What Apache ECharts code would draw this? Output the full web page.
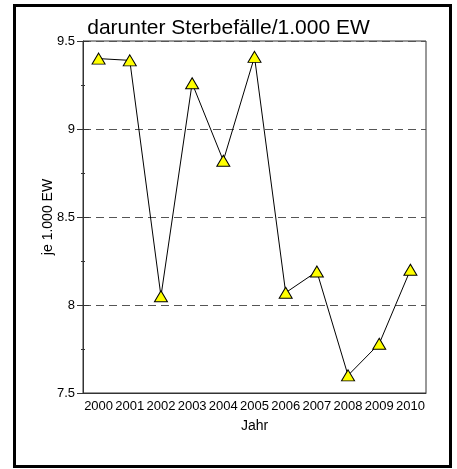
<!DOCTYPE html>
<html><head><meta charset="utf-8">
<script src="https://cdn.jsdelivr.net/npm/echarts@6/dist/echarts.min.js"></script>
<style>html,body{margin:0;padding:0;background:#fff}#c{width:457px;height:469px}</style>
</head><body><div id="c"></div>
<script>
const years = ['2000','2001','2002','2003','2004','2005','2006','2007','2008','2009','2010'];
const values = [9.40, 9.39, 8.05, 9.26, 8.82, 9.41, 8.07, 8.19, 7.60, 7.78, 8.20];
const title = 'darunter Sterbefälle/1.000 EW';
const yName = 'je 1.000 EW';
const xName = 'Jahr';

const narrow = '"Liberation Sans Narrow", "Arial Narrow", "Liberation Sans", sans-serif';
const chart = echarts.init(document.getElementById('c'));
const axisCol = '#333';
chart.setOption({
  animation: false,
  backgroundColor: '#fff',
  title: { text: title, left: 'center', top: 13,
    textStyle: { fontFamily: 'Liberation Sans, Arial, sans-serif', fontSize: 21, fontWeight: 'normal', color: '#000' } },
  graphic: [{ type: 'rect', shape: { x: 14.5, y: 5.5, width: 436, height: 461 },
    style: { fill: 'none', stroke: '#000', lineWidth: 3 }, z: 100 }],
  grid: { left: 83, right: 31, top: 41, bottom: 76, show: true, borderColor: axisCol, borderWidth: 1, backgroundColor: 'transparent' },
  xAxis: [{
    type: 'category', data: years, boundaryGap: true,
    name: xName, nameLocation: 'middle', nameGap: 26,
    nameTextStyle: { fontFamily: 'Liberation Sans, Arial, sans-serif', fontSize: 14, color: '#000' },
    axisLine: { lineStyle: { color: axisCol } },
    axisTick: { alignWithLabel: true, length: 5, lineStyle: { color: axisCol } },
    axisLabel: { fontFamily: narrow, fontSize: 13, color: '#000', margin: 7, interval: 0 },
    splitLine: { show: false }
  }, {
    type: 'category', data: years, boundaryGap: true, position: 'bottom',
    axisLine: { show: false },
    axisTick: { alignWithLabel: true, inside: true, length: 5, lineStyle: { color: axisCol } },
    axisLabel: { show: false }, splitLine: { show: false }
  }],
  yAxis: [{
    type: 'value', min: 7.5, max: 9.5, interval: 0.5,
    name: yName, nameLocation: 'middle', nameGap: 28, nameRotate: 90, nameMoveOverlap: false,
    nameTextStyle: { fontFamily: 'Liberation Sans, Arial, sans-serif', fontSize: 14, color: '#000' },
    axisLine: { show: true, lineStyle: { color: axisCol } },
    axisTick: { show: true, length: 6, lineStyle: { color: axisCol } },
    minorTick: { show: true, splitNumber: 2, length: 2, lineStyle: { color: axisCol } },
    axisLabel: { fontFamily: narrow, fontSize: 13, color: '#000', margin: 8,
      formatter: v => String(v) },
    splitLine: { show: true, lineStyle: { color: '#555', type: [8, 5], width: 1.2 } }
  }, {
    type: 'value', min: 7.5, max: 9.5, interval: 0.5, position: 'left',
    axisLine: { show: false },
    axisTick: { show: true, inside: true, length: 6, lineStyle: { color: axisCol } },
    minorTick: { show: true, splitNumber: 2, length: 2, lineStyle: { color: axisCol } },
    axisLabel: { show: false }, splitLine: { show: false }
  }],
  series: [{
    type: 'line', data: values, xAxisIndex: 0, yAxisIndex: 0,
    lineStyle: { color: '#000', width: 1 },
    symbol: 'triangle', symbolSize: [13, 11],
    itemStyle: { color: '#ffff00', borderColor: '#000', borderWidth: 1 },
    z: 5
  }]
});
</script></body></html>
